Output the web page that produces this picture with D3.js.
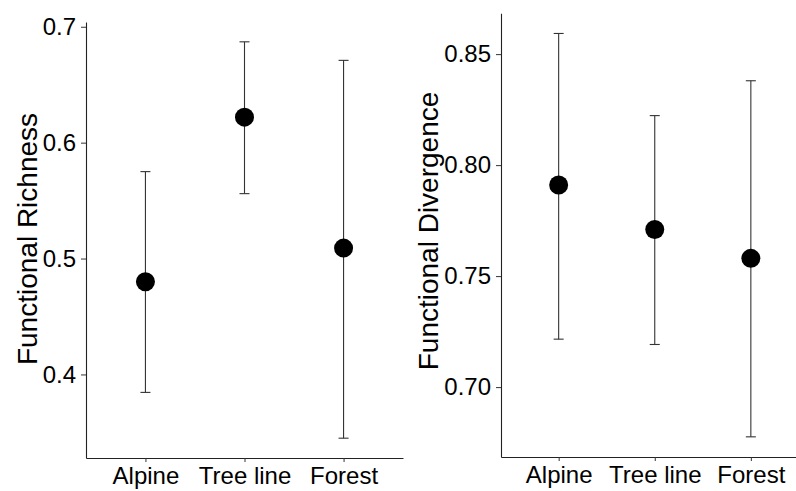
<!DOCTYPE html>
<html>
<head>
<meta charset="utf-8">
<script src="https://cdn.jsdelivr.net/npm/d3@7"></script>
<style>
  body { margin: 0; background: #fff; }
  svg { display: block; }
  text { font-family: "Liberation Sans", Arial, sans-serif; fill: #000; }
</style>
</head>
<body>
<svg id="chart" width="796" height="491"></svg>
<script>
// habitat categories on the x axis
var categories = ["Alpine", "Tree line", "Forest"];

// functional richness: mean and interval
var richMean  = [0.480, 0.622, 0.509];
var richLower = [0.3845, 0.556, 0.345];
var richUpper = [0.575, 0.687, 0.671];
var richTicks = [0.4, 0.5, 0.6, 0.7];

// functional divergence: mean and interval
var divMean  = [0.791, 0.771, 0.758];
var divLower = [0.7216, 0.7192, 0.6776];
var divUpper = [0.8593, 0.8223, 0.838];
var divTicks = [0.70, 0.75, 0.80, 0.85];

var svg = d3.select("#chart");

svg.append("rect").attr("width", 796).attr("height", 491).attr("fill", "#fff");

function panel(opts) {
  var rows = categories.map(function(c, i) {
    return { cat: c, mean: opts.mean[i], lo: opts.lower[i], hi: opts.upper[i] };
  });

  // ggplot-like 5% expansion of the data extent
  var lo = d3.min(rows, function(d) { return d.lo; }),
      hi = d3.max(rows, function(d) { return d.hi; }),
      pad = (hi - lo) * 0.05;

  var x = d3.scalePoint()
      .domain(categories)
      .range([opts.left, opts.right])
      .padding(0.6);

  var y = d3.scaleLinear()
      .domain([lo - pad, hi + pad])
      .range([opts.bottom, opts.top]);

  var g = svg.append("g");

  // error bars
  var bars = g.append("g")
      .selectAll("g")
      .data(rows)
    .enter().append("g")
      .attr("stroke", "#333")
      .attr("stroke-width", 1.1);

  bars.append("line")
      .attr("x1", function(d) { return x(d.cat); })
      .attr("x2", function(d) { return x(d.cat); })
      .attr("y1", function(d) { return y(d.lo); })
      .attr("y2", function(d) { return y(d.hi); });

  bars.append("line")
      .attr("x1", function(d) { return x(d.cat) - 5; })
      .attr("x2", function(d) { return x(d.cat) + 5; })
      .attr("y1", function(d) { return y(d.hi); })
      .attr("y2", function(d) { return y(d.hi); });

  bars.append("line")
      .attr("x1", function(d) { return x(d.cat) - 5; })
      .attr("x2", function(d) { return x(d.cat) + 5; })
      .attr("y1", function(d) { return y(d.lo); })
      .attr("y2", function(d) { return y(d.lo); });

  // mean points
  g.append("g")
      .selectAll("circle")
      .data(rows)
    .enter().append("circle")
      .attr("cx", function(d) { return x(d.cat); })
      .attr("cy", function(d) { return y(d.mean); })
      .attr("r", 9.5)
      .attr("fill", "#000");

  // axes
  var yAxis = g.append("g")
      .attr("transform", "translate(" + opts.left + ",0)")
      .call(d3.axisLeft(y)
        .tickValues(opts.ticks)
        .tickFormat(d3.format(opts.fmt))
        .tickSize(5)
        .tickSizeOuter(0)
        .tickPadding(5));

  var xAxis = g.append("g")
      .attr("transform", "translate(0," + opts.bottom + ")")
      .call(d3.axisBottom(x)
        .tickSize(4)
        .tickSizeOuter(0)
        .tickPadding(5));

  [yAxis, xAxis].forEach(function(a) {
    a.selectAll("text")
        .style("font-size", "24px")
        .attr("fill", "#000");
    a.select(".domain").attr("stroke", "#222").attr("stroke-width", 1.1);
    a.selectAll(".tick line").attr("stroke", "#333");
  });

  g.append("text")
      .attr("transform", "translate(" + opts.titleX + "," + opts.titleY + ") rotate(-90)")
      .attr("text-anchor", "middle")
      .style("font-size", "28px")
      .text(opts.title);
}

panel({
  mean: richMean, lower: richLower, upper: richUpper,
  ticks: richTicks, fmt: ".1f",
  left: 86, right: 403, top: 22, bottom: 458,
  title: "Functional Richness", titleX: 37, titleY: 239
});

panel({
  mean: divMean, lower: divLower, upper: divUpper,
  ticks: divTicks, fmt: ".2f",
  left: 501, right: 808.5, top: 13.3, bottom: 457,
  title: "Functional Divergence", titleX: 438, titleY: 231
});
</script>
</body>
</html>
